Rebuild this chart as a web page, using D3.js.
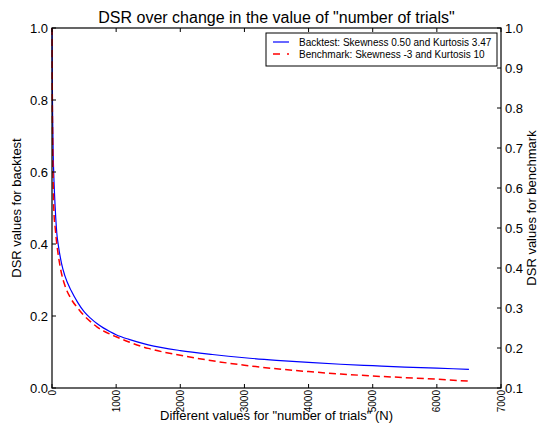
<!DOCTYPE html>
<html>
<head>
    <title>DSR over number of trials</title>
    <script src="https://cdnjs.cloudflare.com/ajax/libs/d3/7.8.5/d3.min.js"></script>
    <style>
        body { margin: 0; background: white; }
        text { font-family: "Liberation Sans", Arial, Helvetica, sans-serif; fill: black; }
    </style>
</head>
<body>
<div id="graph"></div>
<script>
    // number of trials N
    var trials = [1, 5, 10, 20, 30, 50, 75, 100, 150, 200, 300, 400, 500, 600, 700, 800, 900, 1000,
        1200, 1500, 2000, 2500, 3000, 3500, 4000, 4500, 5000, 5500, 6000, 6500];
    // DSR for backtest (left axis)
    var backtest = [1.0, 0.85, 0.75, 0.64, 0.58, 0.5, 0.43, 0.395, 0.345, 0.312, 0.27, 0.238, 0.212,
        0.194, 0.179, 0.167, 0.157, 0.148, 0.135, 0.12, 0.104, 0.093, 0.084, 0.077, 0.071, 0.066,
        0.062, 0.058, 0.055, 0.052];
    // DSR for benchmark (right axis)
    var benchmark = [1.0, 0.82, 0.72, 0.6, 0.54, 0.5, 0.46, 0.43, 0.385, 0.357, 0.322, 0.3, 0.281,
        0.266, 0.253, 0.243, 0.235, 0.228, 0.215, 0.199, 0.182, 0.168, 0.157, 0.148, 0.141, 0.135,
        0.13, 0.126, 0.122, 0.117];

    var xTicks = [0, 1000, 2000, 3000, 4000, 5000, 6000, 7000];
    var leftTicks = [0, 0.2, 0.4, 0.6, 0.8, 1.0];
    var rightTicks = [0.1, 0.2, 0.3, 0.4, 0.5, 0.6, 0.7, 0.8, 0.9, 1.0];

    var legendLabels = ["Backtest: Skewness 0.50 and Kurtosis 3.47",
        "Benchmark: Skewness -3 and Kurtosis 10"];

    var width = 539, height = 423;
    var pL = 52, pR = 501, pT = 28, pB = 388;

    var svg = d3.select("#graph").append("svg")
        .attr("width", width)
        .attr("height", height);

    var x = d3.scaleLinear().domain([0, 7000]).range([pL, pR]);
    var yL = d3.scaleLinear().domain([0, 1]).range([pB, pT]);
    var yR = d3.scaleLinear().domain([0.1, 1]).range([pB, pT]);

    // lines
    var lineL = d3.line()
        .x(function (d, i) { return x(trials[i]); })
        .y(function (d) { return yL(d); })
        .curve(d3.curveMonotoneX);
    var lineR = d3.line()
        .x(function (d, i) { return x(trials[i]); })
        .y(function (d) { return yR(d); })
        .curve(d3.curveMonotoneX);

    svg.append("path").datum(backtest)
        .attr("d", lineL)
        .attr("fill", "none")
        .attr("stroke", "blue")
        .attr("stroke-width", 1.2);

    svg.append("path").datum(benchmark)
        .attr("d", lineR)
        .attr("fill", "none")
        .attr("stroke", "red")
        .attr("stroke-width", 1.5)
        .attr("stroke-dasharray", "7,4");

    // frame
    svg.append("rect")
        .attr("x", pL).attr("y", pT)
        .attr("width", pR - pL).attr("height", pB - pT)
        .attr("fill", "none").attr("stroke", "black").attr("stroke-width", 1.2);

    // x axis ticks (bottom and top, inward)
    var tk = 4;
    svg.selectAll(".xt").data(xTicks).enter().append("line")
        .attr("x1", function (d) { return x(d); }).attr("x2", function (d) { return x(d); })
        .attr("y1", pB).attr("y2", pB - tk)
        .attr("stroke", "black");
    svg.selectAll(".xtt").data(xTicks).enter().append("line")
        .attr("x1", function (d) { return x(d); }).attr("x2", function (d) { return x(d); })
        .attr("y1", pT).attr("y2", pT + tk)
        .attr("stroke", "black");
    svg.selectAll(".xl").data(xTicks).enter().append("text")
        .attr("transform", function (d) { return "translate(" + x(d) + "," + (pB + 2) + ") rotate(-90)"; })
        .attr("dy", "0.35em")
        .attr("text-anchor", "end")
        .attr("font-size", "10px")
        .text(function (d) { return d; });

    // left axis
    svg.selectAll(".lt").data(leftTicks).enter().append("line")
        .attr("x1", pL).attr("x2", pL + tk)
        .attr("y1", function (d) { return yL(d); }).attr("y2", function (d) { return yL(d); })
        .attr("stroke", "black");
    svg.selectAll(".ll").data(leftTicks).enter().append("text")
        .attr("x", pL - 4)
        .attr("y", function (d) { return yL(d); })
        .attr("dy", "0.35em")
        .attr("text-anchor", "end")
        .attr("font-size", "13px")
        .text(function (d) { return d.toFixed(1); });

    // right axis
    svg.selectAll(".rt").data(rightTicks).enter().append("line")
        .attr("x1", pR).attr("x2", pR - tk)
        .attr("y1", function (d) { return yR(d); }).attr("y2", function (d) { return yR(d); })
        .attr("stroke", "black");
    svg.selectAll(".rl").data(rightTicks).enter().append("text")
        .attr("x", pR + 4)
        .attr("y", function (d) { return yR(d); })
        .attr("dy", "0.35em")
        .attr("text-anchor", "start")
        .attr("font-size", "13px")
        .text(function (d) { return d.toFixed(1); });

    // title and axis labels
    svg.append("text")
        .attr("x", (pL + pR) / 2).attr("y", 23)
        .attr("text-anchor", "middle")
        .attr("font-size", "16px")
        .text('DSR over change in the value of "number of trials"');

    svg.append("text")
        .attr("x", (pL + pR) / 2).attr("y", 420)
        .attr("text-anchor", "middle")
        .attr("font-size", "13px")
        .text('Different values for "number of trials" (N)');

    svg.append("text")
        .attr("transform", "translate(21," + ((pT + pB) / 2) + ") rotate(-90)")
        .attr("text-anchor", "middle")
        .attr("font-size", "13px")
        .text("DSR values for backtest");

    svg.append("text")
        .attr("transform", "translate(536," + ((pT + pB) / 2) + ") rotate(-90)")
        .attr("text-anchor", "middle")
        .attr("font-size", "13px")
        .text("DSR values for benchmark");

    // legend
    var lg = svg.append("g");
    lg.append("rect")
        .attr("x", 266).attr("y", 33)
        .attr("width", 231).attr("height", 33)
        .attr("fill", "white").attr("stroke", "black").attr("stroke-width", 1);
    var styles = [{c: "blue", w: 1.2, d: null}, {c: "red", w: 1.5, d: "7,7"}];
    legendLabels.forEach(function (t, i) {
        var yy = 42 + i * 12;
        lg.append("line")
            .attr("x1", 273).attr("x2", 289)
            .attr("y1", yy).attr("y2", yy)
            .attr("stroke", styles[i].c)
            .attr("stroke-width", styles[i].w)
            .attr("stroke-dasharray", styles[i].d);
        lg.append("text")
            .attr("x", 299).attr("y", yy)
            .attr("dy", "0.35em")
            .attr("font-size", "10px")
            .text(t);
    });
</script>
</body>
</html>
